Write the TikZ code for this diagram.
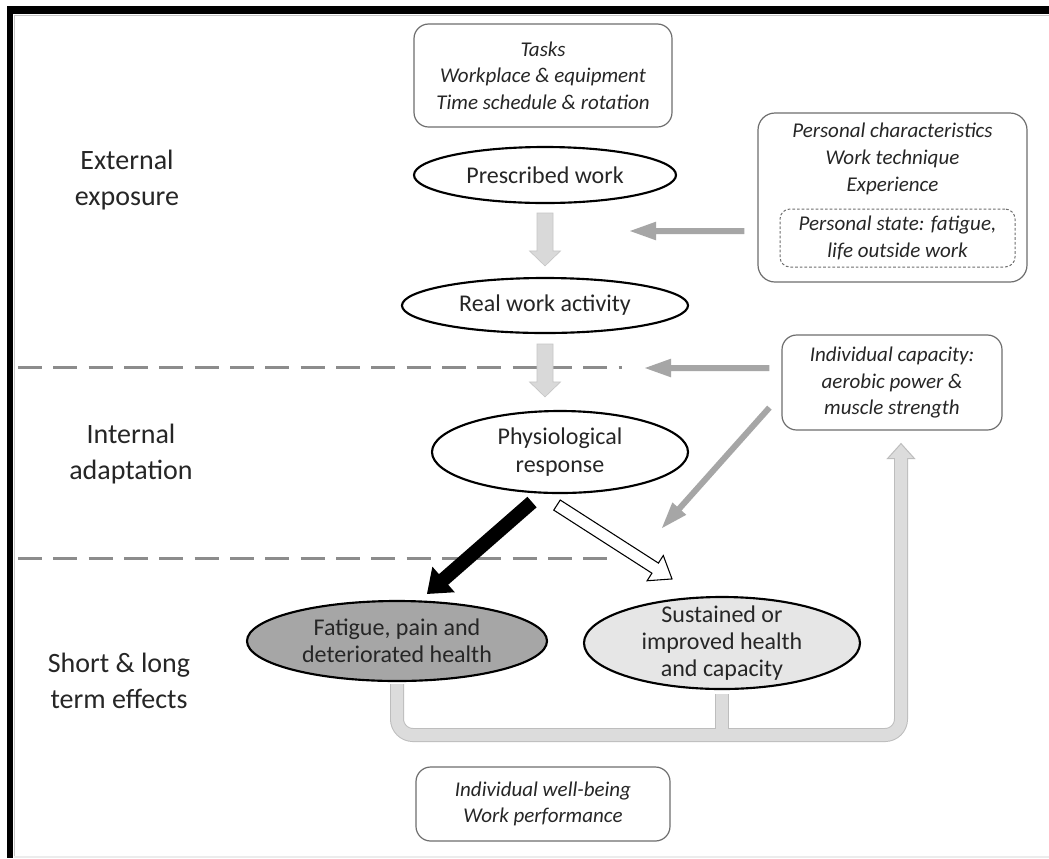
\documentclass[tikz,border=0pt]{standalone}
\usepackage{fontspec}
\setmainfont{Carlito}
\usetikzlibrary{calc,shapes.geometric}

\definecolor{ink}{HTML}{262626}
\definecolor{boxline}{HTML}{6E6E6E}
\definecolor{blockfill}{HTML}{D9D9D9}
\definecolor{blockedge}{HTML}{C6C6C6}
\definecolor{pointer}{HTML}{A6A6A6}
\definecolor{divider}{HTML}{8C8C8C}
\definecolor{darkfill}{HTML}{A6A6A6}
\definecolor{lightfill}{HTML}{E6E6E6}
\definecolor{bandedge}{HTML}{BDBDBD}
\definecolor{bandfill}{HTML}{DCDCDC}

% fonts
\newcommand\bxfont{\fontsize{15.75pt}{20pt}\selectfont\itshape}
\newcommand\ovfont{\fontsize{18pt}{20.5pt}\selectfont}
\newcommand\lbfont{\fontsize{21pt}{27pt}\selectfont}

% block arrow polygon from tail #2 to tip #3:
% #4 half shaft width, #5 half head width, #6 head length
\newcommand\shaftarrow[6]{%
  \path[#1] ($(#2)!#4!90:(#3)$)
    -- ($($(#3)!#6!(#2)$)!#4!90:(#3)$)
    -- ($($(#3)!#6!(#2)$)!#5!90:(#3)$)
    -- (#3)
    -- ($($(#3)!#6!(#2)$)!#5!-90:(#3)$)
    -- ($($(#3)!#6!(#2)$)!#4!-90:(#3)$)
    -- ($(#2)!#4!-90:(#3)$) -- cycle;}

\begin{document}
\begin{tikzpicture}[x=0.75pt,y=-0.75pt,
  infobox/.style={draw=boxline, line width=0.9pt, rounded corners=11pt,
    inner sep=0pt, align=center, font=\bxfont, text=ink},
  oval/.style={ellipse, draw=black, line width=1.6pt, inner sep=0pt},
  ovaltext/.style={align=center, font=\ovfont, text=ink, inner sep=0pt},
  sidelabel/.style={align=center, font=\lbfont, text=ink},
  divline/.style={draw=divider, line width=2.25pt, dash pattern=on 18pt off 8.5pt},
  blockarrow/.style={fill=blockfill, draw=blockedge, line width=0.5pt},
  pointerarrow/.style={fill=pointer},
  blackarrow/.style={fill=black},
  whitearrow/.style={fill=white, draw=black, line width=0.8pt, line join=miter},
  bandouter/.style={draw=bandedge, line width=10.5pt, rounded corners=12pt},
  bandinner/.style={draw=bandfill, line width=9pt, rounded corners=12pt},
]
\useasboundingbox (0,0) rectangle (1049,858);
\fill[white] (0,0) rectangle (1049,858);

% frame
\fill[black] (7,6) rectangle (1049,14);
\fill[black] (7,6) rectangle (13,858);
\draw[gray!45, line width=0.6pt] (13.5,15) -- (1049,15);
\draw[gray!45, line width=0.6pt] (14,15) -- (14,858);
\fill[gray!15] (14,856) rectangle (1049,858);

% side labels
\node[sidelabel] (ext) at (127,180) {External\\exposure};
\node[sidelabel] (int) at (131,454) {Internal\\adaptation};
\node[sidelabel] (eff) at (119,681) {Short \& long\\term effects};

% dividers
\draw[divline] (18,367) -- (622,367);
\draw[divline] (18,558) -- (612,558);

% boxes
\node[infobox, minimum width=193.5pt, minimum height=77.25pt] (inputs) at (543,75.5)
  {Tasks\\Workplace \& equipment\\Time schedule \& rotation};
\node[infobox, rounded corners=12.75pt, minimum width=201.75pt, minimum height=126.75pt] (pers) at (892.5,197.5) {};
\node[font=\bxfont, text=ink, align=center, inner sep=0pt] (perstext) at (892.5,159)
  {Personal characteristics\\Work technique\\Experience};
\node[draw=boxline, line width=0.75pt, dash pattern=on 2pt off 1.5pt, rounded corners=7.5pt,
  minimum width=176.25pt, minimum height=43.5pt, font=\bxfont, align=center, text=ink, inner sep=0pt]
  (state) at (897.5,238) {Personal state: fatigue,\\life outside work};
\node[infobox, minimum width=165pt, minimum height=71.25pt] (cap) at (892,382.5)
  {Individual capacity:\\aerobic power \&\\muscle strength};
\node[infobox, minimum width=190.5pt, minimum height=55.5pt] (outcome) at (543,804)
  {Individual well-being\\Work performance};

% ovals
\node[oval, minimum width=196.5pt, minimum height=42pt] (pw) at (545,175) {};
\node[ovaltext] (pwtxt) at (pw) {Prescribed work};
\node[oval, minimum width=214.5pt, minimum height=41.25pt] (rw) at (545,305.5) {};
\node[ovaltext] (rwtxt) at (rw) {Real work activity};
\node[oval, minimum width=192pt, minimum height=61.5pt] (phys) at (560,452) {};
\node[ovaltext] (phystxt) at (phys) {Physiological\\response};
\node[oval, fill=darkfill, minimum width=225pt, minimum height=60pt] (fat) at (397,641) {};
\node[ovaltext] (fattxt) at (fat) {Fatigue, pain and\\deteriorated health};
\node[oval, fill=lightfill, minimum width=207pt, minimum height=69pt] (sus) at (722,643) {};
\node[ovaltext] (sustxt) at (sus) {Sustained or\\improved health\\and capacity};

% vertical flow arrows
\coordinate (d1t) at ($(pw.south)+(0,9)$);
\coordinate (d1h) at ($(rw.north)+(0,-11)$);
\coordinate (d2t) at ($(rw.south)+(0,10)$);
\coordinate (d2h) at ($(rw.south |- phys.north)+(0,-13)$);
\shaftarrow{blockarrow}{d1t}{d1h}{6pt}{11.6pt}{11.25pt}
\shaftarrow{blockarrow}{d2t}{d2h}{6pt}{11.6pt}{11.25pt}

% influences from the right
\coordinate (pa) at ($(pers.west)+(-13,33.5)$);
\coordinate (pah) at (630,231);
\coordinate (pb) at ($(cap.west)+(-12,-14.5)$);
\coordinate (pbh) at (645,368);
\coordinate (pc) at ($(cap.south west)+(-12,-23)$);
\coordinate (pch) at (662,528);
\shaftarrow{pointerarrow}{pa}{pah}{2.25pt}{7pt}{19.5pt}
\shaftarrow{pointerarrow}{pb}{pbh}{2.25pt}{7pt}{19.5pt}
\shaftarrow{pointerarrow}{pc}{pch}{2.25pt}{7pt}{19.5pt}

% outcomes of the response
\coordinate (bt) at ($(phys.south)+(-28,8)$);
\coordinate (bh) at ($(fat.north)+(30,-6)$);
\coordinate (wt) at ($(phys.south)+(-3,11)$);
\coordinate (wh) at ($(sus.north)+(-50,-17)$);
\shaftarrow{blackarrow}{bt}{bh}{5.25pt}{12.75pt}{16.5pt}
\shaftarrow{whitearrow}{wt}{wh}{4.5pt}{11.25pt}{15pt}

% feedback band to individual capacity
\coordinate (brk) at (901,735);
\coordinate (uptip) at ($(cap.south)+(9,13)$);
\coordinate (upbase) at ($(uptip)+(0,14)$);
\draw[bandouter] ($(fat.south)+(0,2)$) |- (brk) -- (upbase);
\draw[bandouter] ($(sus.south)+(0,4)$) -- (sus.south |- brk);
\filldraw[fill=bandfill, draw=bandedge, line width=0.75pt]
  (uptip) -- ($(uptip)+(13.5,15)$) -- ($(uptip)+(-13.5,15)$) -- cycle;
\draw[bandinner] ($(fat.south)+(0,2)$) |- (brk) -- ($(upbase)+(0,-1.5)$);
\draw[bandinner] ($(sus.south)+(0,4)$) -- ($(sus.south |- brk)+(0,-1)$);
\end{tikzpicture}
\end{document}
